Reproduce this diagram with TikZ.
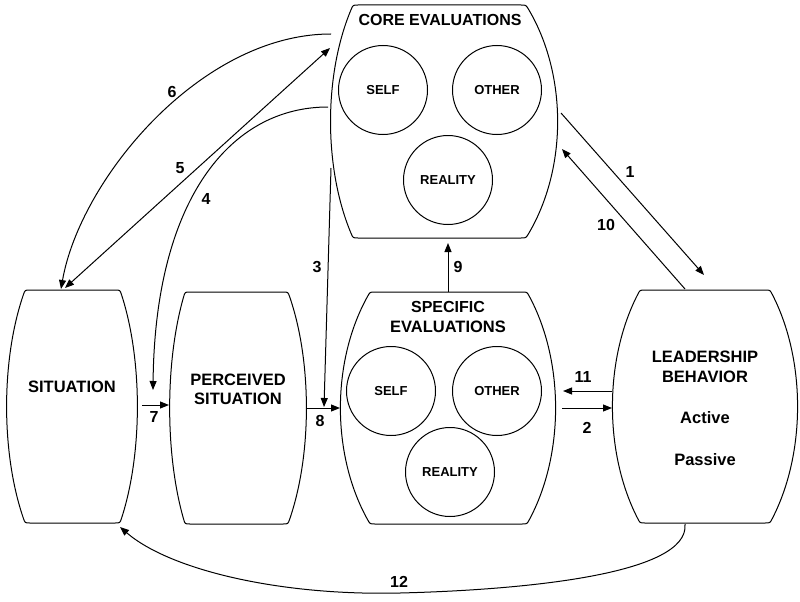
\documentclass[tikz,border=0pt]{standalone}
\usepackage{fontspec}
\setmainfont{Liberation Sans}
\usetikzlibrary{arrows.meta,calc}
% barrel outline: #1 x-left #2 x-right #3 y-top #4 y-bottom (outer extents), #5 left bulge, #6 right bulge
\newcommand\barrelout[6]{%
  \pgfmathsetmacro\bh{#4-#3}%
  \pgfmathsetmacro\rdx{4/3*#6}\pgfmathsetmacro\rdy{0.3*\bh}%
  \pgfmathsetmacro\rl{veclen(\rdx,\rdy)}%
  \pgfmathsetmacro\ra{5*\rdx/\rl}\pgfmathsetmacro\rb{5*\rdy/\rl}%
  \pgfmathsetmacro\ldx{4/3*#5}\pgfmathsetmacro\ldy{0.3*\bh}%
  \pgfmathsetmacro\ll{veclen(\ldx,\ldy)}%
  \pgfmathsetmacro\la{5*\ldx/\ll}\pgfmathsetmacro\lb{5*\ldy/\ll}%
  \draw[outline] ({#1+#5+5},#3) -- ({#2-#6-5},#3)
    .. controls ({#2-#6},#3) .. ({#2-#6+\ra},{#3+\rb})
    .. controls ({#2+#6/3},{#3+\rdy}) and ({#2+#6/3},{#4-\rdy}) .. ({#2-#6+\ra},{#4-\rb})
    .. controls ({#2-#6},#4) .. ({#2-#6-5},#4)
    -- ({#1+#5+5},#4)
    .. controls ({#1+#5},#4) .. ({#1+#5-\la},{#4-\lb})
    .. controls ({#1-#5/3},{#4-\ldy}) and ({#1-#5/3},{#3+\ldy}) .. ({#1+#5-\la},{#3+\lb})
    .. controls ({#1+#5},#3) .. cycle;}
\tikzset{
  outline/.style={draw, line width=1pt},
  boxnode/.style={rectangle, draw=none, inner sep=0pt},
  circ/.style={circle, draw, line width=1pt, minimum size=89pt, inner sep=0pt,
    font=\fontsize{13}{15}\selectfont\bfseries},
  big/.style={align=center, inner sep=0pt, font=\fontsize{16.5}{19.5}\selectfont\bfseries},
  num/.style={inner sep=0pt, font=\fontsize{16}{18}\selectfont\bfseries},
  arr/.style={line width=1pt, -{Triangle[length=9pt,width=7pt]}},
  darr/.style={line width=1pt, {Triangle[length=9pt,width=7pt]}-{Triangle[length=9pt,width=7pt]}}
}
\begin{document}
\begin{tikzpicture}[x=1pt,y=-1pt]
\useasboundingbox (0,0) rectangle (800,602);
% boxes
\node[boxnode, minimum width=226pt, minimum height=233pt] (core) at (444,121.5) {};
\node[boxnode, minimum width=130pt, minimum height=233pt] (sit) at (72,406.5) {};
\node[boxnode, minimum width=136pt, minimum height=232pt] (perc) at (238,408) {};
\node[boxnode, minimum width=214pt, minimum height=232pt] (spec) at (448,408) {};
\node[boxnode, minimum width=184pt, minimum height=233pt] (lead) at (705,406.5) {};
\barrelout{331}{557}{5}{238}{22}{31}
\barrelout{7}{137}{290}{523}{18}{17}
\barrelout{170}{306}{292}{524}{15}{18}
\barrelout{341}{555}{292}{524}{29}{28}
\barrelout{613}{797}{290}{523}{27}{27}
% texts
\node[big] (coret) at (440,20) {\fontsize{16}{19}\selectfont CORE EVALUATIONS};
\node[circ] (cself) at (383,90) {SELF};
\node[circ] (cother) at (497,90) {OTHER};
\node[circ] (creal) at (448,180) {REALITY};
\node[big] (sitt) at (72,387) {SITUATION};
\node[big] (perct) at (238,389.5) {PERCEIVED\\SITUATION};
\node[big] (spect) at (448,317) {\fontsize{16}{20}\selectfont SPECIFIC\\EVALUATIONS};
\node[circ] (sself) at (391,391) {SELF};
\node[circ] (sother) at (497,391) {OTHER};
\node[circ] (sreal) at (450,472) {REALITY};
\node[big] (leadt) at (705,367) {\fontsize{16.5}{20}\selectfont LEADERSHIP\\BEHAVIOR};
\node[big] (act) at (705,418) {Active};
\node[big] (pas) at (705,460) {Passive};
% connector end points
\coordinate (c1a) at (561,113); \coordinate (c1b) at (704,275);
\coordinate (c10a) at (685,289); \coordinate (c10b) at (562,149);
\coordinate (c9a) at (448,292); \coordinate (c9b) at (448,243);
\coordinate (c11a) at (612,391); \coordinate (c11b) at (563,391);
\coordinate (c2a) at (562,408); \coordinate (c2b) at (612,408);
\coordinate (c8a) at (306,408); \coordinate (c8b) at (340,408);
\coordinate (c7a) at (142,405); \coordinate (c7b) at (169,405);
\coordinate (c3a) at (331,168); \coordinate (c3b) at (324,407);
\coordinate (c4a) at (328,107); \coordinate (c4b) at (153,390);
\coordinate (c5a) at (330,48); \coordinate (c5b) at (65,288);
\coordinate (c6a) at (331,34); \coordinate (c6b) at (61,289);
\coordinate (c12a) at (685,524); \coordinate (c12m) at (400,593); \coordinate (c12b) at (120,527);
% connectors
\draw[arr] (c1a) -- (c1b);
\draw[arr] (c10a) -- (c10b);
\draw[arr] (c9a) -- (c9b);
\draw[arr] (c11a) -- (c11b);
\draw[arr] (c2a) -- (c2b);
\draw[arr] (c8a) -- (c8b);
\draw[arr] (c7a) -- (c7b);
\draw[arr] (c3a) -- (c3b);
\draw[arr] (c4a) .. controls (230,107) and (155,200) .. (c4b);
\draw[darr] (c5a) -- (c5b);
\draw[arr] (c6a) .. controls (200,34) and (80,180) .. (c6b);
\draw[arr] (c12a) .. controls (690,575) and (520,590) .. (c12m)
  .. controls (280,596) and (170,570) .. (c12b);
% labels
\node[num] (n1) at (630,172) {1};
\node[num] (n10) at (606,225) {10};
\node[num] (n9) at (458,267) {9};
\node[num] (n11) at (583,377) {11};
\node[num] (n2) at (587,428) {2};
\node[num] (n8) at (320,421) {8};
\node[num] (n7) at (154,417) {7};
\node[num] (n3) at (317,267) {3};
\node[num] (n4) at (206,199) {4};
\node[num] (n5) at (180,168) {5};
\node[num] (n6) at (172,92) {6};
\node[num] (n12) at (399,582) {12};
\end{tikzpicture}
\end{document}
